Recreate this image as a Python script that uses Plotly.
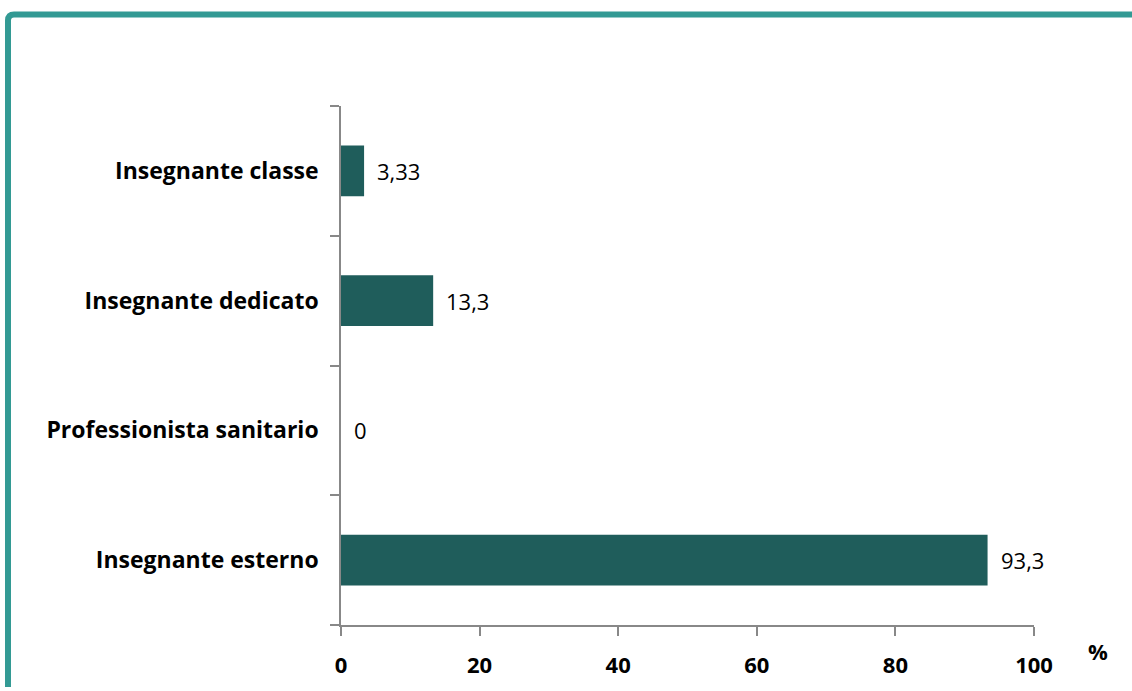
import plotly.graph_objects as go

categories = ["Insegnante classe", "Insegnante dedicato", "Professionista sanitario", "Insegnante esterno"]
values = [3.33, 13.3, 0, 93.3]
x_ticks = [0, 20, 40, 60, 80, 100]
unit_label = "%"

labels = [f"{v:g}".replace(".", ",") for v in values]

W, H = 1132, 691
L, R, T, B = 341, 98, 106, 58
pw, ph = W - L - R, H - T - B

def px(x):
    return (x - L) / pw

def py(y):
    return (H - B - y) / ph

FONT = "Open Sans"
teal = "#339a94"

fig = go.Figure(go.Bar(
    y=categories, x=values, orientation="h",
    marker=dict(color="#1f5d5b", line=dict(width=0)),
    width=0.39,
))

for c, v, t in zip(categories, values, labels):
    fig.add_annotation(x=v, y=c, text=t, xref="x", yref="y", showarrow=False,
                       xanchor="left", xshift=11,
                       font=dict(family=FONT, size=22, color="#000000"))

# border path (top + left with rounded corner)
r = 6
path = (f"M {px(8)} {py(H+5)} L {px(8)} {py(13+r)} "
        f"Q {px(8)} {py(13)} {px(8+r)} {py(13)} L {px(W+5)} {py(13)}")
fig.add_shape(type="path", path=path, xref="paper", yref="paper",
              line=dict(color=teal, width=6), layer="above")

fig.add_annotation(text="<b>" + unit_label + "</b>", x=px(1098), y=py(659), xref="paper", yref="paper",
                   xanchor="center", yanchor="middle",
                   showarrow=False, font=dict(family=FONT, size=22, color="#000000"))

fig.update_layout(
    width=W, height=H,
    margin=dict(l=L, r=R, t=T, b=B),
    paper_bgcolor="white", plot_bgcolor="white",
    showlegend=False,
    font=dict(family=FONT, color="#000000"),
    xaxis=dict(range=[0, 100], tickvals=x_ticks, showgrid=False, zeroline=False,
               showline=True, linecolor="#888888", linewidth=1.5,
               ticks="outside", ticklen=9, tickcolor="#888888", tickwidth=1.5,
               tickfont=dict(family=FONT, size=22, color="#000000", weight="bold"),
               ticklabelstandoff=11),
    yaxis=dict(categoryorder="array", categoryarray=categories[::-1],
               showgrid=False, zeroline=False,
               showline=True, linecolor="#888888", linewidth=1.5,
               ticks="outside", ticklen=9, tickcolor="#888888", tickwidth=1.5,
               tickson="boundaries",
               tickfont=dict(family=FONT, size=23, color="#000000", weight="bold"),
               ticklabelstandoff=16),
)

fig.write_html("out.html", config={"displayModeBar": False},
               post_script="document.body.style.margin='0';")
